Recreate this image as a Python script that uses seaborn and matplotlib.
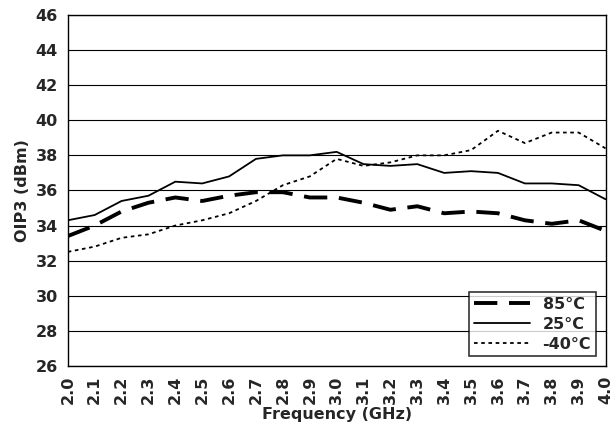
import matplotlib
matplotlib.use("Agg")
import matplotlib.pyplot as plt
import seaborn as sns
import pandas as pd

freq = [2.0, 2.1, 2.2, 2.3, 2.4, 2.5, 2.6, 2.7, 2.8, 2.9, 3.0,
        3.1, 3.2, 3.3, 3.4, 3.5, 3.6, 3.7, 3.8, 3.9, 4.0]
oip3_85 = [33.4, 34.0, 34.8, 35.3, 35.6, 35.4, 35.7, 35.9, 35.9, 35.6, 35.6,
           35.3, 34.9, 35.1, 34.7, 34.8, 34.7, 34.3, 34.1, 34.3, 33.7]
oip3_25 = [34.3, 34.6, 35.4, 35.7, 36.5, 36.4, 36.8, 37.8, 38.0, 38.0, 38.2,
           37.5, 37.4, 37.5, 37.0, 37.1, 37.0, 36.4, 36.4, 36.3, 35.5]
oip3_m40 = [32.5, 32.8, 33.3, 33.5, 34.0, 34.3, 34.7, 35.4, 36.3, 36.8, 37.8,
            37.4, 37.6, 38.0, 38.0, 38.3, 39.4, 38.7, 39.3, 39.3, 38.4]

sns.set_style("white")
plt.rcParams['font.family'] = ['DejaVu Sans']
plt.rcParams['font.weight'] = 'bold'

fig, ax = plt.subplots(figsize=(6.16, 4.28), dpi=100)
series = [("85°C", oip3_85, (0, (6, 3)), 2.8),
          ("25°C", oip3_25, "-", 1.3),
          ("-40°C", oip3_m40, (0, (2, 2)), 1.3)]
for label, vals, ls, lw in series:
    df = pd.DataFrame({"f": freq, "v": vals})
    sns.lineplot(data=df, x="f", y="v", ax=ax, color="black", linestyle=ls, linewidth=lw, label=label)

ax.set_xlim(2.0, 4.0)
ax.set_ylim(26, 46)
ax.set_xticks(freq)
ax.set_xticklabels([f"{f:.1f}" for f in freq], rotation=90, fontsize=11.5, fontweight='bold')
ax.set_yticks(range(26, 47, 2))
ax.set_yticklabels([str(v) for v in range(26, 47, 2)], fontsize=11.5, fontweight='bold')
ax.grid(axis='y', color='black', linewidth=0.8)
for s in ax.spines.values():
    s.set_color('black')
    s.set_linewidth(1)
ax.set_xlabel("Frequency (GHz)", fontsize=11.5, fontweight='bold', labelpad=2)
ax.set_ylabel("OIP3 (dBm)", fontsize=11.5, fontweight='bold')
leg = ax.legend(loc='lower right', frameon=True, fancybox=False, edgecolor='black',
                fontsize=11.5, handlelength=3.5, borderaxespad=0.6, borderpad=0.3,
                labelspacing=0.3)
leg.get_frame().set_linewidth(1.2)
plt.subplots_adjust(left=0.11, right=0.983, top=0.965, bottom=0.145)
fig.savefig("out.png", dpi=100)
